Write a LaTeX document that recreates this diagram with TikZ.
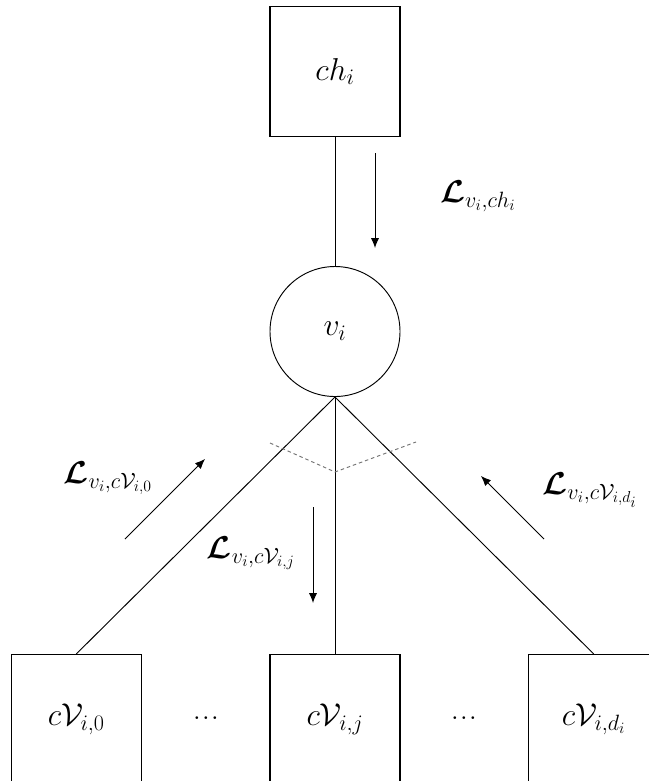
\RequirePackage{fix-cm}
\documentclass[tikz,border=0pt]{standalone}
\usepackage{amsmath}
\usepackage{tikz}
\usetikzlibrary{arrows.meta, positioning}

\begin{document}
\begin{tikzpicture}[x=0.03cm, y=-0.03cm,
          sqbox/.style={rectangle, draw, line width=0.9pt, inner sep=0pt,
                        minimum width=3.9cm, minimum height=3.9cm,
                        font=\fontsize{27}{31}\selectfont},
          vnode/.style={circle, draw, line width=0.8pt, inner sep=0pt,
                        minimum size=3.9cm, font=\fontsize{27}{31}\selectfont},
          lbl/.style={inner sep=0pt, font=\fontsize{27}{31}\selectfont},
          dots/.style={inner sep=0pt, font=\fontsize{15}{18}\selectfont},
          edge/.style={line width=0.8pt},
          arr/.style={-{Latex[length=8.5pt, width=7pt]}, line width=0.8pt}]
          \useasboundingbox (0,0) rectangle (649,781);
          \node[sqbox] (ch) at (335,71.5) {$ch_i$};
          \node[vnode, below=3.87cm of ch] (v) {$v_i$};
          \node[sqbox, below=7.71cm of v] (cvj) {$c\mathcal{V}_{i,j}$};
          \node[sqbox, left=3.83cm of cvj]  (cv0) {$c\mathcal{V}_{i,0}$};
          \node[sqbox, right=3.83cm of cvj] (cvd) {$c\mathcal{V}_{i,d_i}$};
          \node[dots] (dotl) at (206,718) {$\boldsymbol{\ldots}$};
          \node[dots] (dotr) at (464,718) {$\boldsymbol{\ldots}$};
          \draw[edge] (ch)--(v);
          \draw[edge] (v.south)--(cv0.north); \draw[edge] (v.south)--(cvj.north);
          \draw[edge] (v.south)--(cvd.north);
          % angle mark
          \draw[dashed, black!55, line width=0.8pt, dash pattern=on 3pt off 2.5pt]
            (270,443) -- (335,472) -- (416,442);
          % messages
          \coordinate (a0s) at (125,539); \coordinate (a0e) at (205,459);
          \coordinate (ajs) at (313,507); \coordinate (aje) at (313,603);
          \coordinate (ads) at (544,539); \coordinate (ade) at (481,476);
          \coordinate (ahs) at (375,153); \coordinate (ahe) at (375,248);
          \draw[arr] (ahs)--(ahe); \draw[arr] (a0s)--(a0e);
          \draw[arr] (ajs)--(aje); \draw[arr] (ads)--(ade);
          \node[lbl] (lch) at (478,196) {$\boldsymbol{\mathcal{L}}_{v_i,ch_i}$};
          \node[lbl] (l0)  at (108,478) {$\boldsymbol{\mathcal{L}}_{v_i,c\mathcal{V}_{i,0}}$};
          \node[lbl] (lj)  at (251,553) {$\boldsymbol{\mathcal{L}}_{v_i,c\mathcal{V}_{i,j}}$};
          \node[lbl] (ld)  at (590,490) {$\boldsymbol{\mathcal{L}}_{v_i,c\mathcal{V}_{i,d_i}}$};
        \end{tikzpicture}
\end{document}
